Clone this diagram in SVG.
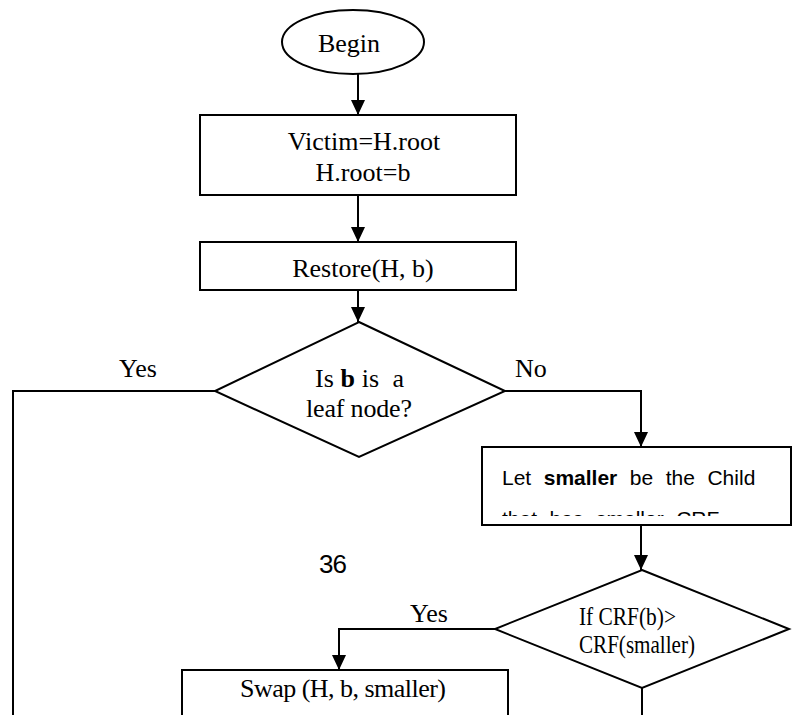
<svg xmlns="http://www.w3.org/2000/svg" width="793" height="715" viewBox="0 0 793 715">
  <defs>
    <marker id="arrow" markerWidth="15" markerHeight="14" refX="15" refY="7" orient="auto" markerUnits="userSpaceOnUse">
      <path d="M0,0 L15,7 L0,14 Z" fill="#000"/>
    </marker>
    <clipPath id="smallerClip">
      <rect x="484" y="449" width="305" height="67"/>
    </clipPath>
  </defs>
  <style>
    .shape { fill: #fff; stroke: #000; stroke-width: 2; }
    .line { fill: none; stroke: #000; stroke-width: 2; }
    .serif { font-family: "Liberation Serif", "Times New Roman", serif; font-size: 26px; fill: #000; }
    .sans { font-family: "Liberation Sans", Arial, sans-serif; font-size: 21px; fill: #000; word-spacing: 6.7px; }
    .mid { text-anchor: middle; }
  </style>
  <rect width="793" height="715" fill="#fff"/>

  <!-- connectors -->
  <g id="connectors">
    <line class="line" x1="358" y1="74" x2="358" y2="115" marker-end="url(#arrow)"/>
    <line class="line" x1="358" y1="195" x2="358" y2="242" marker-end="url(#arrow)"/>
    <line class="line" x1="358" y1="290" x2="358" y2="322" marker-end="url(#arrow)"/>
    <polyline class="line" points="215,391 13,391 13,716"/>
    <polyline class="line" points="505,391 641,391 641,447" marker-end="url(#arrow)"/>
    <line class="line" x1="641" y1="525" x2="641" y2="570" marker-end="url(#arrow)"/>
    <polyline class="line" points="495,629 339,629 339,670" marker-end="url(#arrow)"/>
    <line class="line" x1="642" y1="688" x2="642" y2="716"/>
    <text class="serif" x="119" y="377">Yes</text>
    <text class="serif" x="515" y="377">No</text>
    <text class="serif" x="410" y="622">Yes</text>
  </g>

  <g id="begin">
    <ellipse class="shape" cx="353" cy="42" rx="71" ry="32"/>
    <text class="serif mid" x="349" y="52">Begin</text>
  </g>

  <g id="victim">
    <rect class="shape" x="200" y="115" width="316" height="80"/>
    <text class="serif mid" x="364" y="150">Victim=H.root</text>
    <text class="serif mid" x="363" y="181">H.root=b</text>
  </g>

  <g id="restore">
    <rect class="shape" x="200" y="242" width="316" height="48"/>
    <text class="serif mid" x="363" y="277">Restore(H, b)</text>
  </g>

  <g id="leaf-check">
    <polygon class="shape" points="359,322 505,391 359,457 215,391"/>
    <text class="serif mid" x="359.5" y="387" xml:space="preserve" textLength="89">Is <tspan font-weight="bold">b</tspan> is  a</text>
    <text class="serif mid" x="359" y="417" textLength="106">leaf node?</text>
  </g>

  <g id="smaller-child">
    <rect class="shape" x="482" y="447" width="309" height="78"/>
    <g clip-path="url(#smallerClip)">
      <text class="sans" x="502" y="485">Let <tspan font-weight="bold">smaller</tspan> be the Child</text>
      <text class="sans" x="502" y="526">that has smaller CRF</text>
    </g>
  </g>

  <text x="319" y="573" font-family="'Liberation Sans', Arial, sans-serif" font-size="26" textLength="28">36</text>

  <g id="crf-check">
    <polygon class="shape" points="642,570 789,629 642,688 495,629"/>
    <text class="serif" x="579" y="625" font-size="22" textLength="97" lengthAdjust="spacingAndGlyphs">If CRF(b)&gt;</text>
    <text class="serif" x="579" y="653" font-size="22" textLength="116" lengthAdjust="spacingAndGlyphs">CRF(smaller)</text>
  </g>

  <g id="swap">
    <rect class="shape" x="182" y="670" width="326" height="50"/>
    <text class="serif mid" x="343" y="697" font-size="24" textLength="206">Swap (H, b, smaller)</text>
  </g>
</svg>
